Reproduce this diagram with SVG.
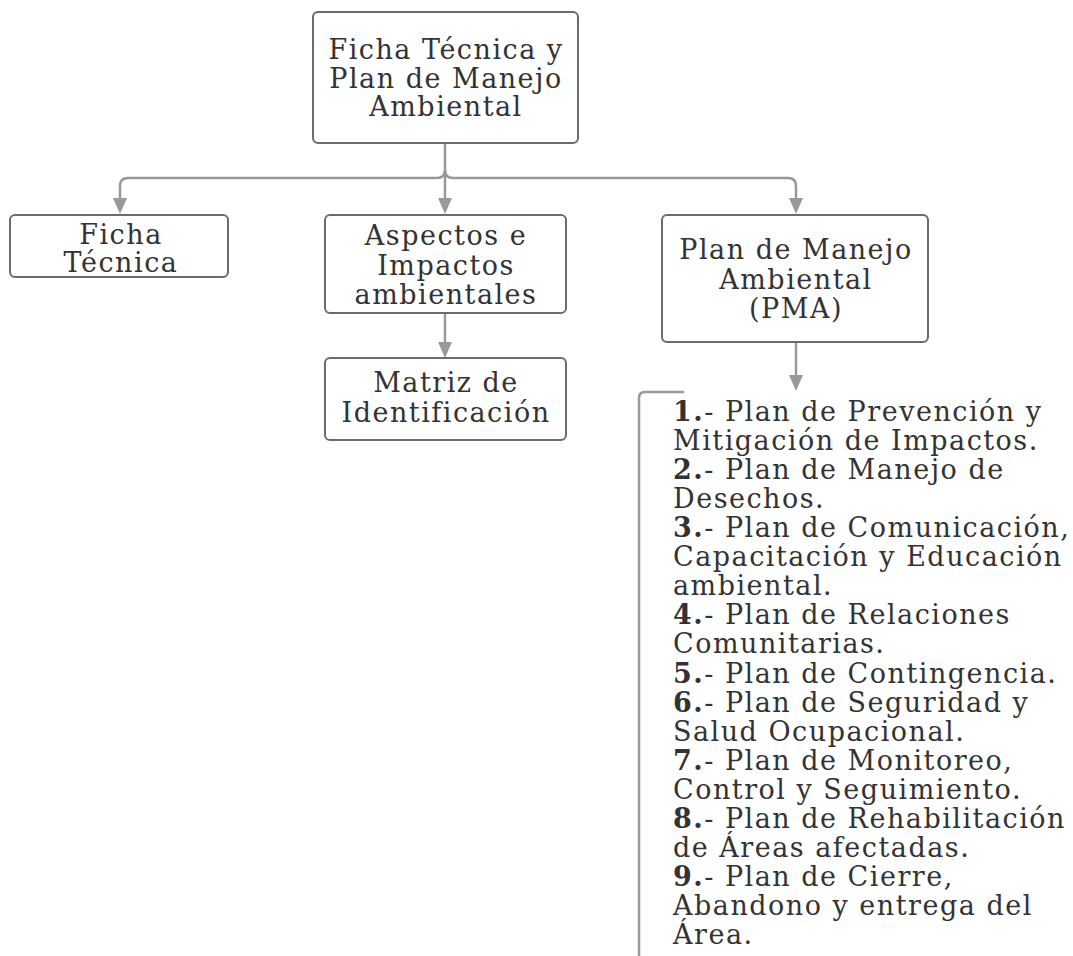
<svg xmlns="http://www.w3.org/2000/svg" width="1073" height="956" viewBox="0 0 1073 956">
<defs>
<style>
.box{fill:#fff;stroke:#6b6b6b;stroke-width:2}
.t{font-family:"DejaVu Serif","Liberation Serif",serif;font-size:27px;letter-spacing:1.5px;fill:#333;text-anchor:middle}
.l{font-family:"DejaVu Serif","Liberation Serif",serif;font-size:27px;letter-spacing:1.5px;fill:#333}
.b{font-weight:bold}
.c{fill:none;stroke:#999;stroke-width:2.5}
</style>
</defs>
<rect width="1073" height="956" fill="#fff"/>
<g id="connectors">
<path class="c" d="M445,143 V200"/>
<path class="c" d="M445,170 Q445,178 437,178 H128 Q120,178 120,186 V200"/>
<path class="c" d="M445,170 Q445,178 453,178 H788 Q796,178 796,186 V200"/>
<path class="c" d="M445,313 V345"/>
<path class="c" d="M796,342 V378"/>
<path class="c" d="M684,392 H645 Q639,392 639,398 V956"/>
</g>
<g id="arrowheads" fill="#999">
<path d="M438,198 H452 L445,214 Z"/>
<path d="M113,198 H127 L120,214 Z"/>
<path d="M789,198 H803 L796,214 Z"/>
<path d="M438,342 H452 L445,358 Z"/>
<path d="M789,375 H803 L796,391 Z"/>
</g>
<g id="n-root">
<rect class="box" x="313" y="12" width="265" height="131" rx="5"/>
<text class="t" x="446" y="59">Ficha Técnica y</text>
<text class="t" x="446" y="88">Plan de Manejo</text>
<text class="t" x="446" y="116">Ambiental</text>
</g>
<g id="n-ficha">
<rect class="box" x="10" y="215" width="218" height="62" rx="5"/>
<text class="t" x="121" y="244">Ficha</text>
<text class="t" x="121" y="272">Técnica</text>
</g>
<g id="n-aspectos">
<rect class="box" x="325" y="215" width="241" height="98" rx="5"/>
<text class="t" x="446" y="245">Aspectos e</text>
<text class="t" x="446" y="275">Impactos</text>
<text class="t" x="446" y="304">ambientales</text>
</g>
<g id="n-matriz">
<rect class="box" x="325" y="358" width="241" height="82" rx="5"/>
<text class="t" x="446" y="392">Matriz de</text>
<text class="t" x="446" y="422">Identificación</text>
</g>
<g id="n-pma">
<rect class="box" x="662" y="215" width="266" height="127" rx="5"/>
<text class="t" x="796" y="259">Plan de Manejo</text>
<text class="t" x="796" y="289">Ambiental</text>
<text class="t" x="796" y="318">(PMA)</text>
</g>
<g id="n-list">
<text class="l" x="673" y="421"><tspan class="b">1.</tspan>- Plan de Prevención y</text>
<text class="l" x="673" y="450">Mitigación de Impactos.</text>
<text class="l" x="673" y="479"><tspan class="b">2.</tspan>- Plan de Manejo de</text>
<text class="l" x="673" y="508">Desechos.</text>
<text class="l" x="673" y="537"><tspan class="b">3.</tspan>- Plan de Comunicación,</text>
<text class="l" x="673" y="566">Capacitación y Educación</text>
<text class="l" x="673" y="595">ambiental.</text>
<text class="l" x="673" y="624"><tspan class="b">4.</tspan>- Plan de Relaciones</text>
<text class="l" x="673" y="653">Comunitarias.</text>
<text class="l" x="673" y="683"><tspan class="b">5.</tspan>- Plan de Contingencia.</text>
<text class="l" x="673" y="712"><tspan class="b">6.</tspan>- Plan de Seguridad y</text>
<text class="l" x="673" y="741">Salud Ocupacional.</text>
<text class="l" x="673" y="770"><tspan class="b">7.</tspan>- Plan de Monitoreo,</text>
<text class="l" x="673" y="799">Control y Seguimiento.</text>
<text class="l" x="673" y="828"><tspan class="b">8.</tspan>- Plan de Rehabilitación</text>
<text class="l" x="673" y="857">de Áreas afectadas.</text>
<text class="l" x="673" y="886"><tspan class="b">9.</tspan>- Plan de Cierre,</text>
<text class="l" x="673" y="915">Abandono y entrega del</text>
<text class="l" x="673" y="944">Área.</text>
</g>
</svg>
